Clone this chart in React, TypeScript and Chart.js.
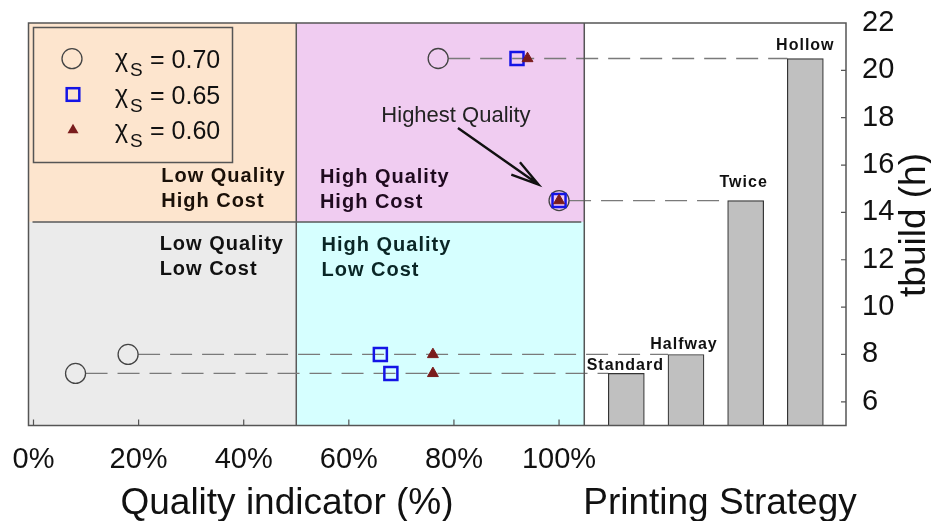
import React, { useEffect, useRef } from "react";
import { Chart, registerables } from "chart.js";

Chart.register(...registerables);

// ---------- data ----------
const strategies = ["Standard", "Halfway", "Twice", "Hollow"];
const buildTime = [7.2, 8.0, 14.5, 20.5]; // tbuild (h) per strategy
const quality070 = [8, 18, 100, 77]; // chi_S = 0.70
const quality065 = [68, 66, 100, 92]; // chi_S = 0.65
const quality060 = [76, 76, 100, 94]; // chi_S = 0.60
const chiValues = ["0.70", "0.65", "0.60"];
const xTicks = [0, 20, 40, 60, 80, 100];
const yTicks = [6, 8, 10, 12, 14, 16, 18, 20, 22];
const quadrantLabels = [
  ["Low Quality", "High Cost"],
  ["High Quality", "High Cost"],
  ["Low Quality", "Low Cost"],
  ["High Quality", "Low Cost"],
];

// ---------- layout / style constants ----------
const FONT = '"Liberation Sans", Arial, Helvetica, sans-serif';
const QUALITY_SPLIT = 50;
const TIME_SPLIT = 13.6;
const PANEL_END = 104.8;
const X_MIN = -0.95;
const X_MAX = 154.6;
const XB_MIN = -9.32;
const XB_MAX = 4.38;
const Y_MIN = 5;
const Y_MAX = 22;
const BAR_LABEL_LIFT = [8, 10, 18, 12.5];
const BAR_LABEL_SHIFT = [-1, -2, -2, 0];
const QUAD_POS = [
  { x: 24.3, y1: 15.52, y2: 14.45, color: "#1a1008" },
  { x: 54.5, y1: 15.47, y2: 14.4, color: "#1f0a1f" },
  { x: 24.0, y1: 12.66, y2: 11.6, color: "#111111" },
  { x: 54.8, y1: 12.6, y2: 11.55, color: "#0a2626" },
];

const quadPlugin = {
  id: "quadPlugin",
  beforeDatasetsDraw(chart: any) {
    const { ctx, chartArea: ca, scales } = chart;
    const x = scales.x;
    const y = scales.y;
    const bars = chart.getDatasetMeta(0).data;
    const xl = ca.left;
    const xr = x.getPixelForValue(PANEL_END);
    const xm = x.getPixelForValue(QUALITY_SPLIT);
    const ym = y.getPixelForValue(TIME_SPLIT);
    const yt = ca.top;
    const ybt = ca.bottom;
    ctx.save();
    ctx.fillStyle = "#FDE5CE";
    ctx.fillRect(xl, yt, xm - xl, ym - yt);
    ctx.fillStyle = "#F0CCF1";
    ctx.fillRect(xm, yt, xr - xm, ym - yt);
    ctx.fillStyle = "#EBEBEB";
    ctx.fillRect(xl, ym, xm - xl, ybt - ym);
    ctx.fillStyle = "#D6FFFF";
    ctx.fillRect(xm, ym, xr - xm, ybt - ym);

    ctx.strokeStyle = "#5a5a5a";
    ctx.lineWidth = 1.5;
    ctx.beginPath();
    ctx.moveTo(xl + 4, ym);
    ctx.lineTo(xr - 3, ym);
    ctx.moveTo(xm, yt);
    ctx.lineTo(xm, ybt);
    ctx.stroke();

    // quadrant labels
    ctx.font = `bold 20px ${FONT}`;
    (ctx as any).letterSpacing = "1px";
    ctx.textAlign = "left";
    ctx.textBaseline = "middle";
    QUAD_POS.forEach((p, i) => {
      ctx.fillStyle = p.color;
      const px = x.getPixelForValue(p.x);
      ctx.fillText(quadrantLabels[i][0], px, y.getPixelForValue(p.y1));
      ctx.fillText(quadrantLabels[i][1], px, y.getPixelForValue(p.y2));
    });
    (ctx as any).letterSpacing = "0px";

    // dashed connectors from left-most marker to the strategy bar
    ctx.strokeStyle = "#7a7a7a";
    ctx.lineWidth = 1.3;
    ctx.setLineDash([22, 10]);
    buildTime.forEach((t, i) => {
      const q = Math.min(quality070[i], quality065[i], quality060[i]);
      const py = y.getPixelForValue(t);
      const bar = bars[i];
      const endX = bar ? bar.x - bar.width / 2 : xr;
      ctx.beginPath();
      ctx.moveTo(x.getPixelForValue(q) + 10, py);
      ctx.lineTo(endX, py);
      ctx.stroke();
    });
    ctx.setLineDash([]);
    ctx.restore();
  },
  afterDatasetsDraw(chart: any) {
    const { ctx, chartArea: ca, scales } = chart;
    const x = scales.x;
    const y = scales.y;
    const bars = chart.getDatasetMeta(0).data;
    const xr = x.getPixelForValue(PANEL_END);
    ctx.save();
    // frame
    ctx.strokeStyle = "#555555";
    ctx.lineWidth = 1.5;
    ctx.strokeRect(ca.left, ca.top, ca.right - ca.left, ca.bottom - ca.top);
    ctx.beginPath();
    ctx.moveTo(xr, ca.top);
    ctx.lineTo(xr, ca.bottom);
    ctx.stroke();
    // inward ticks
    ctx.lineWidth = 1.2;
    ctx.beginPath();
    xTicks.forEach((v) => {
      const px = x.getPixelForValue(v);
      ctx.moveTo(px, ca.bottom);
      ctx.lineTo(px, ca.bottom - 6);
    });
    yTicks.forEach((v) => {
      if (v >= Y_MAX) return;
      const py = y.getPixelForValue(v);
      ctx.moveTo(ca.right, py);
      ctx.lineTo(ca.right - 5, py);
    });
    ctx.stroke();

    // bar labels
    ctx.fillStyle = "#111";
    ctx.font = `bold 16px ${FONT}`;
    (ctx as any).letterSpacing = "1px";
    ctx.textAlign = "center";
    ctx.textBaseline = "middle";
    strategies.forEach((s, i) => {
      const bar = bars[i];
      if (!bar) return;
      ctx.fillText(s, bar.x + BAR_LABEL_SHIFT[i], bar.y - BAR_LABEL_LIFT[i]);
    });
    (ctx as any).letterSpacing = "0px";

    // Highest quality annotation
    const bx = x.getPixelForValue(quality070[2]);
    const by = y.getPixelForValue(buildTime[2]);
    const tipX = bx - 20.5;
    const tipY = by - 16;
    const sX = tipX - 80.6;
    const sY = tipY - 56.6;
    ctx.strokeStyle = "#111";
    ctx.lineWidth = 2.4;
    ctx.beginPath();
    ctx.moveTo(sX, sY);
    ctx.lineTo(tipX, tipY);
    const ang = Math.atan2(sY - tipY, sX - tipX);
    const hl = 29;
    const spread = (15 * Math.PI) / 180;
    ctx.moveTo(tipX + hl * Math.cos(ang - spread), tipY + hl * Math.sin(ang - spread));
    ctx.lineTo(tipX, tipY);
    ctx.lineTo(tipX + hl * Math.cos(ang + spread), tipY + hl * Math.sin(ang + spread));
    ctx.stroke();
    ctx.fillStyle = "#222";
    ctx.font = `22px ${FONT}`;
    ctx.textAlign = "center";
    ctx.fillText("Highest Quality", sX - 2, sY - 12);

    // legend
    ctx.strokeStyle = "#555";
    ctx.lineWidth = 1.5;
    ctx.strokeRect(33.5, 27.5, 199, 135);
    const rows = [58.7, 94.5, 129.7];
    rows.forEach((ry, i) => {
      const mx = 73;
      ctx.setLineDash([]);
      if (i === 0) {
        ctx.strokeStyle = "#444";
        ctx.lineWidth = 1.3;
        ctx.beginPath();
        ctx.arc(mx - 1, ry, 10, 0, Math.PI * 2);
        ctx.stroke();
      } else if (i === 1) {
        ctx.strokeStyle = "#1414E6";
        ctx.lineWidth = 2.5;
        ctx.strokeRect(mx - 6.3, ry - 6.3, 12.6, 12.6);
      } else {
        ctx.fillStyle = "#7A1C1C";
        ctx.beginPath();
        ctx.moveTo(mx, ry - 6);
        ctx.lineTo(mx + 5.5, ry + 3.5);
        ctx.lineTo(mx - 5.5, ry + 3.5);
        ctx.closePath();
        ctx.fill();
      }
      ctx.fillStyle = "#111";
      ctx.textAlign = "left";
      ctx.textBaseline = "alphabetic";
      ctx.font = `25px ${FONT}`;
      ctx.fillText("\u03C7", 115, ry + 8);
      ctx.font = `19px ${FONT}`;
      ctx.fillText("S", 130, ry + 17);
      ctx.font = `25px ${FONT}`;
      ctx.fillText("= " + chiValues[i], 150, ry + 9);
    });

    // axis titles
    ctx.fillStyle = "#111";
    ctx.font = `37px ${FONT}`;
    ctx.textAlign = "center";
    ctx.textBaseline = "alphabetic";
    ctx.fillText("Quality indicator (%)", 287, 514);
    ctx.fillText("Printing Strategy", 720, 514);
    ctx.translate(925, 225);
    ctx.rotate(-Math.PI / 2);
    ctx.fillText("tbuild (h)", 0, 0);
    ctx.restore();
  },
};

export default function App() {
  const ref = useRef<HTMLCanvasElement | null>(null);
  useEffect(() => {
    if (!ref.current) return;
    const chart = new Chart(ref.current, {
      type: "scatter",
      data: {
        datasets: [
          {
            type: "bar",
            label: "tbuild",
            data: strategies.map((s, i) => ({ x: i + 1, y: buildTime[i] })),
            xAxisID: "xb",
            yAxisID: "y",
            backgroundColor: "#C0C0C0",
            borderColor: "#333333",
            borderWidth: 1.2,
            barThickness: 36,
            order: 3,
          } as any,
          {
            type: "scatter",
            label: "χS = " + chiValues[0],
            data: quality070.map((q, i) => ({ x: q, y: buildTime[i] })),
            xAxisID: "x",
            yAxisID: "y",
            pointStyle: "circle",
            pointRadius: 10,
            pointBackgroundColor: "rgba(0,0,0,0)",
            pointBorderColor: "#444444",
            pointBorderWidth: 1.3,
            order: 2,
          },
          {
            type: "scatter",
            label: "χS = " + chiValues[1],
            data: quality065.map((q, i) => ({ x: q, y: buildTime[i] })),
            xAxisID: "x",
            yAxisID: "y",
            pointStyle: "rect",
            pointRadius: 9.2,
            pointBackgroundColor: "rgba(0,0,0,0)",
            pointBorderColor: "#1414E6",
            pointBorderWidth: 2.5,
            order: 1,
          },
          {
            type: "scatter",
            label: "χS = " + chiValues[2],
            data: quality060.map((q, i) => ({ x: q, y: buildTime[i] })),
            xAxisID: "x",
            yAxisID: "y",
            pointStyle: "triangle",
            pointRadius: 6.3,
            pointBackgroundColor: "#7A1C1C",
            pointBorderColor: "#7A1C1C",
            pointBorderWidth: 1,
            order: 0,
          },
        ],
      },
      options: {
        animation: false,
        responsive: false,
        layout: { padding: { left: 28.5, top: 23, right: 0, bottom: 0 } },
        plugins: { legend: { display: false }, tooltip: { enabled: false } },
        scales: {
          x: {
            type: "linear",
            position: "bottom",
            min: X_MIN,
            max: X_MAX,
            offset: false,
            grid: { display: false, drawTicks: false },
            border: { display: false },
            ticks: {
              font: { size: 29, family: FONT },
              color: "#111",
              padding: 17,
              maxRotation: 0,
              callback: (v: any) => v + "%",
            },
            afterBuildTicks: (s: any) => {
              s.ticks = xTicks.map((v) => ({ value: v }));
            },
            afterFit: (s: any) => {
              s.height = 95.5;
              s.paddingLeft = 0;
              s.paddingRight = 0;
            },
          },
          xb: {
            type: "linear",
            position: "bottom",
            display: true,
            offset: false,
            min: XB_MIN,
            max: XB_MAX,
            grid: { display: false, drawTicks: false, offset: false },
            border: { display: false },
            ticks: { display: false },
            afterFit: (s: any) => {
              s.height = 0;
              s.paddingLeft = 0;
              s.paddingRight = 0;
            },
          },
          y: {
            type: "linear",
            position: "right",
            min: Y_MIN,
            max: Y_MAX,
            grid: { display: false, drawTicks: false },
            border: { display: false },
            ticks: {
              font: { size: 29, family: FONT },
              color: "#111",
              padding: 16,
            },
            afterBuildTicks: (s: any) => {
              s.ticks = yTicks.map((v) => ({ value: v }));
            },
            afterFit: (s: any) => {
              s.width = 85;
              s.paddingTop = 0;
              s.paddingBottom = 0;
            },
          },
        },
      } as any,
      plugins: [quadPlugin],
    });
    return () => chart.destroy();
  }, []);
  return (
    <div style={{ position: "absolute", left: 0, top: 0, width: 931, height: 521, background: "#fff" }}>
      <canvas ref={ref} width={931} height={521} style={{ width: 931, height: 521, display: "block" }} />
    </div>
  );
}
